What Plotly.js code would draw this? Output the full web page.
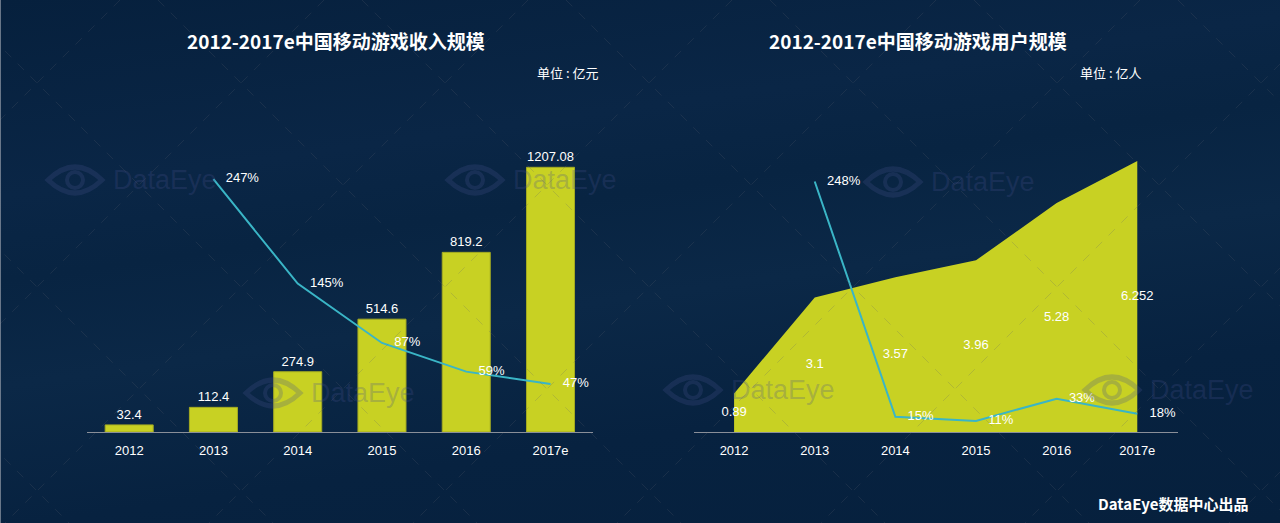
<!DOCTYPE html>
<html>
<head>
<meta charset="utf-8">
<script src="https://cdn.plot.ly/plotly-3.0.1.min.js"></script>
<style>html,body{margin:0;padding:0;background:#07213f;}#chart{width:1280px;height:523px;background:linear-gradient(172deg,#06203d 0%,#0a2646 28%,#082442 40%,#0b2847 55%,#072240 75%,#06203d 100%);}</style>
</head>
<body>
<div id="chart"></div>
<script>
const years = ['2012','2013','2014','2015','2016','2017e'];
const revenue = [32.4, 112.4, 274.9, 514.6, 819.2, 1207.08];
const revenueLabels = ['32.4','112.4','274.9','514.6','819.2','1207.08'];
const revenueGrowthYears = ['2013','2014','2015','2016','2017e'];
const revenueGrowth = [247, 145, 87, 59, 47];
const users = [0.89, 3.1, 3.57, 3.96, 5.28, 6.252];
const userLabels = ['0.89','3.1','3.57','3.96','5.28','6.252'];
const userGrowthYears = ['2013','2014','2015','2016','2017e'];
const userGrowth = [248, 15, 11, 33, 18];

const BAR = '#c8d123';
const LINE = '#3ab5c6';
const txtFont = {family: 'Liberation Sans, Arial, sans-serif', size: 13, color: '#ffffff'};
const hiddenMarker = {size: 18, color: 'rgba(0,0,0,0)'};

const traces = [
  {type: 'bar', x: years, y: revenue, xaxis: 'x', yaxis: 'y',
   marker: {color: BAR, line: {color: '#a3aa22', width: 1}}, text: revenueLabels, textposition: 'outside',
   textfont: txtFont, cliponaxis: false, hoverinfo: 'skip'},
  {type: 'scatter', mode: 'lines+markers+text', x: revenueGrowthYears, y: revenueGrowth,
   xaxis: 'x', yaxis: 'y2', line: {color: LINE, width: 2}, marker: hiddenMarker,
   text: revenueGrowth.map(v => v + '%'), textposition: 'middle right',
   textfont: txtFont, cliponaxis: false, hoverinfo: 'skip'},
  {type: 'scatter', mode: 'lines', x: years, y: users, xaxis: 'x2', yaxis: 'y3',
   fill: 'tozeroy', fillcolor: BAR, line: {width: 0, color: BAR}, hoverinfo: 'skip'},
  {type: 'scatter', mode: 'text', x: years, y: users.map(v => v / 2),
   xaxis: 'x2', yaxis: 'y3', text: userLabels, textposition: 'middle center',
   textfont: txtFont, cliponaxis: false, hoverinfo: 'skip'},
  {type: 'scatter', mode: 'lines+markers+text', x: userGrowthYears, y: userGrowth,
   xaxis: 'x2', yaxis: 'y4', line: {color: LINE, width: 2}, marker: hiddenMarker,
   text: userGrowth.map(v => v + '%'), textposition: 'middle right',
   textfont: txtFont, cliponaxis: false, hoverinfo: 'skip'}
];

const xBase = {type: 'category', range: [-0.5, 5.5], showgrid: false, zeroline: false,
  showline: true, linecolor: '#8a8f99', linewidth: 1, ticks: 'outside', ticklen: 6,
  tickcolor: 'rgba(0,0,0,0)', tickfont: txtFont, fixedrange: true};
const yHidden = {showgrid: false, zeroline: false, showline: false, showticklabels: false, fixedrange: true};
const yDom = [0.174, 0.761];

const W = 1280, H = 523;
const px = x => x / W, py = y => 1 - y / H;
const shapes = [];
const annotations = [];

// faint diagonal lattice of the background
const latticeColor = 'rgba(90,95,110,0.22)';
for (let c = 362 - 204 * 5; c < W + H; c += 204) {
  shapes.push({type: 'line', xref: 'paper', yref: 'paper', layer: 'above',
    x0: px(c), y0: py(0), x1: px(c + H), y1: py(H),
    line: {color: latticeColor, width: 1, dash: 'dash'}});
}
for (let c = 120; c < W + H + 204; c += 204) {
  shapes.push({type: 'line', xref: 'paper', yref: 'paper', layer: 'above',
    x0: px(c), y0: py(0), x1: px(c - H), y1: py(H),
    line: {color: latticeColor, width: 1, dash: 'dash'}});
}

// watermark positions (pixel)
const wm = [[75,180],[475,180],[273,393],[893,182],[693,390],[1112,390]];
const wmColor = 'rgba(70,80,140,0.26)';
wm.forEach(([cx, cy]) => {
  const path = `M ${px(cx-27)} ${py(cy)} Q ${px(cx)} ${py(cy-26)} ${px(cx+27)} ${py(cy)} Q ${px(cx)} ${py(cy+26)} ${px(cx-27)} ${py(cy)} Z`;
  shapes.push({type: 'path', xref: 'paper', yref: 'paper', path: path,
    line: {color: wmColor, width: 5}, fillcolor: 'rgba(0,0,0,0)', layer: 'above'});
  shapes.push({type: 'circle', xref: 'paper', yref: 'paper',
    x0: px(cx-8), x1: px(cx+8), y0: py(cy+8), y1: py(cy-8),
    line: {color: wmColor, width: 4}, fillcolor: 'rgba(0,0,0,0)', layer: 'above'});
  annotations.push({xref: 'paper', yref: 'paper', x: px(cx+36), y: py(cy),
    xanchor: 'left', yanchor: 'middle', showarrow: false, text: 'DataEye',
    font: {family: 'Liberation Sans, Arial, sans-serif', size: 27, color: wmColor}});
});

// thin left edge line
shapes.push({type: 'line', xref: 'paper', yref: 'paper', x0: px(0.5), x1: px(0.5), y0: 0, y1: 1,
  line: {color: 'rgba(170,175,185,0.6)', width: 1}, layer: 'above'});

const titleFont = {family: 'Noto Sans CJK SC, sans-serif', size: 19, color: '#ffffff', weight: 'bold'};
const unitFont = {family: 'Noto Sans CJK SC, sans-serif', size: 13, color: '#ffffff'};
annotations.push(
  {xref: 'paper', yref: 'paper', x: px(336), y: py(41), xanchor: 'center', yanchor: 'middle',
   showarrow: false, text: '<b>2012-2017e中国移动游戏收入规模</b>', font: titleFont},
  {xref: 'paper', yref: 'paper', x: px(918), y: py(41), xanchor: 'center', yanchor: 'middle',
   showarrow: false, text: '<b>2012-2017e中国移动游戏用户规模</b>', font: titleFont},
  {xref: 'paper', yref: 'paper', x: px(600), y: py(73), xanchor: 'right', yanchor: 'middle',
   showarrow: false, text: '单位 : 亿元', font: unitFont},
  {xref: 'paper', yref: 'paper', x: px(1143), y: py(72), xanchor: 'right', yanchor: 'middle',
   showarrow: false, text: '单位 : 亿人', font: unitFont},
  {xref: 'paper', yref: 'paper', x: px(1250), y: py(503), xanchor: 'right', yanchor: 'middle',
   showarrow: false, text: '<b>DataEye数据中心出品</b>',
   font: {family: 'Noto Sans CJK SC, sans-serif', size: 15, color: '#ffffff'}}
);

const layout = {
  width: 1280, height: 523,
  margin: {l: 0, r: 0, t: 0, b: 0},
  paper_bgcolor: 'rgba(0,0,0,0)', plot_bgcolor: 'rgba(0,0,0,0)',
  showlegend: false, bargap: 0.43,
  xaxis: Object.assign({}, xBase, {domain: [0.068, 0.463], anchor: 'y'}),
  yaxis: Object.assign({}, yHidden, {domain: yDom, range: [0, 1400], anchor: 'x'}),
  yaxis2: Object.assign({}, yHidden, {overlaying: 'y', range: [0, 300], anchor: 'x'}),
  xaxis2: Object.assign({}, xBase, {domain: [0.542, 0.92], anchor: 'y3'}),
  yaxis3: Object.assign({}, yHidden, {domain: yDom, range: [0, 7.08], anchor: 'x2'}),
  yaxis4: Object.assign({}, yHidden, {overlaying: 'y3', range: [0, 304], anchor: 'x2'}),
  shapes: shapes,
  annotations: annotations
};

Plotly.newPlot('chart', traces, layout, {displayModeBar: false, staticPlot: true});
</script>
</body>
</html>
